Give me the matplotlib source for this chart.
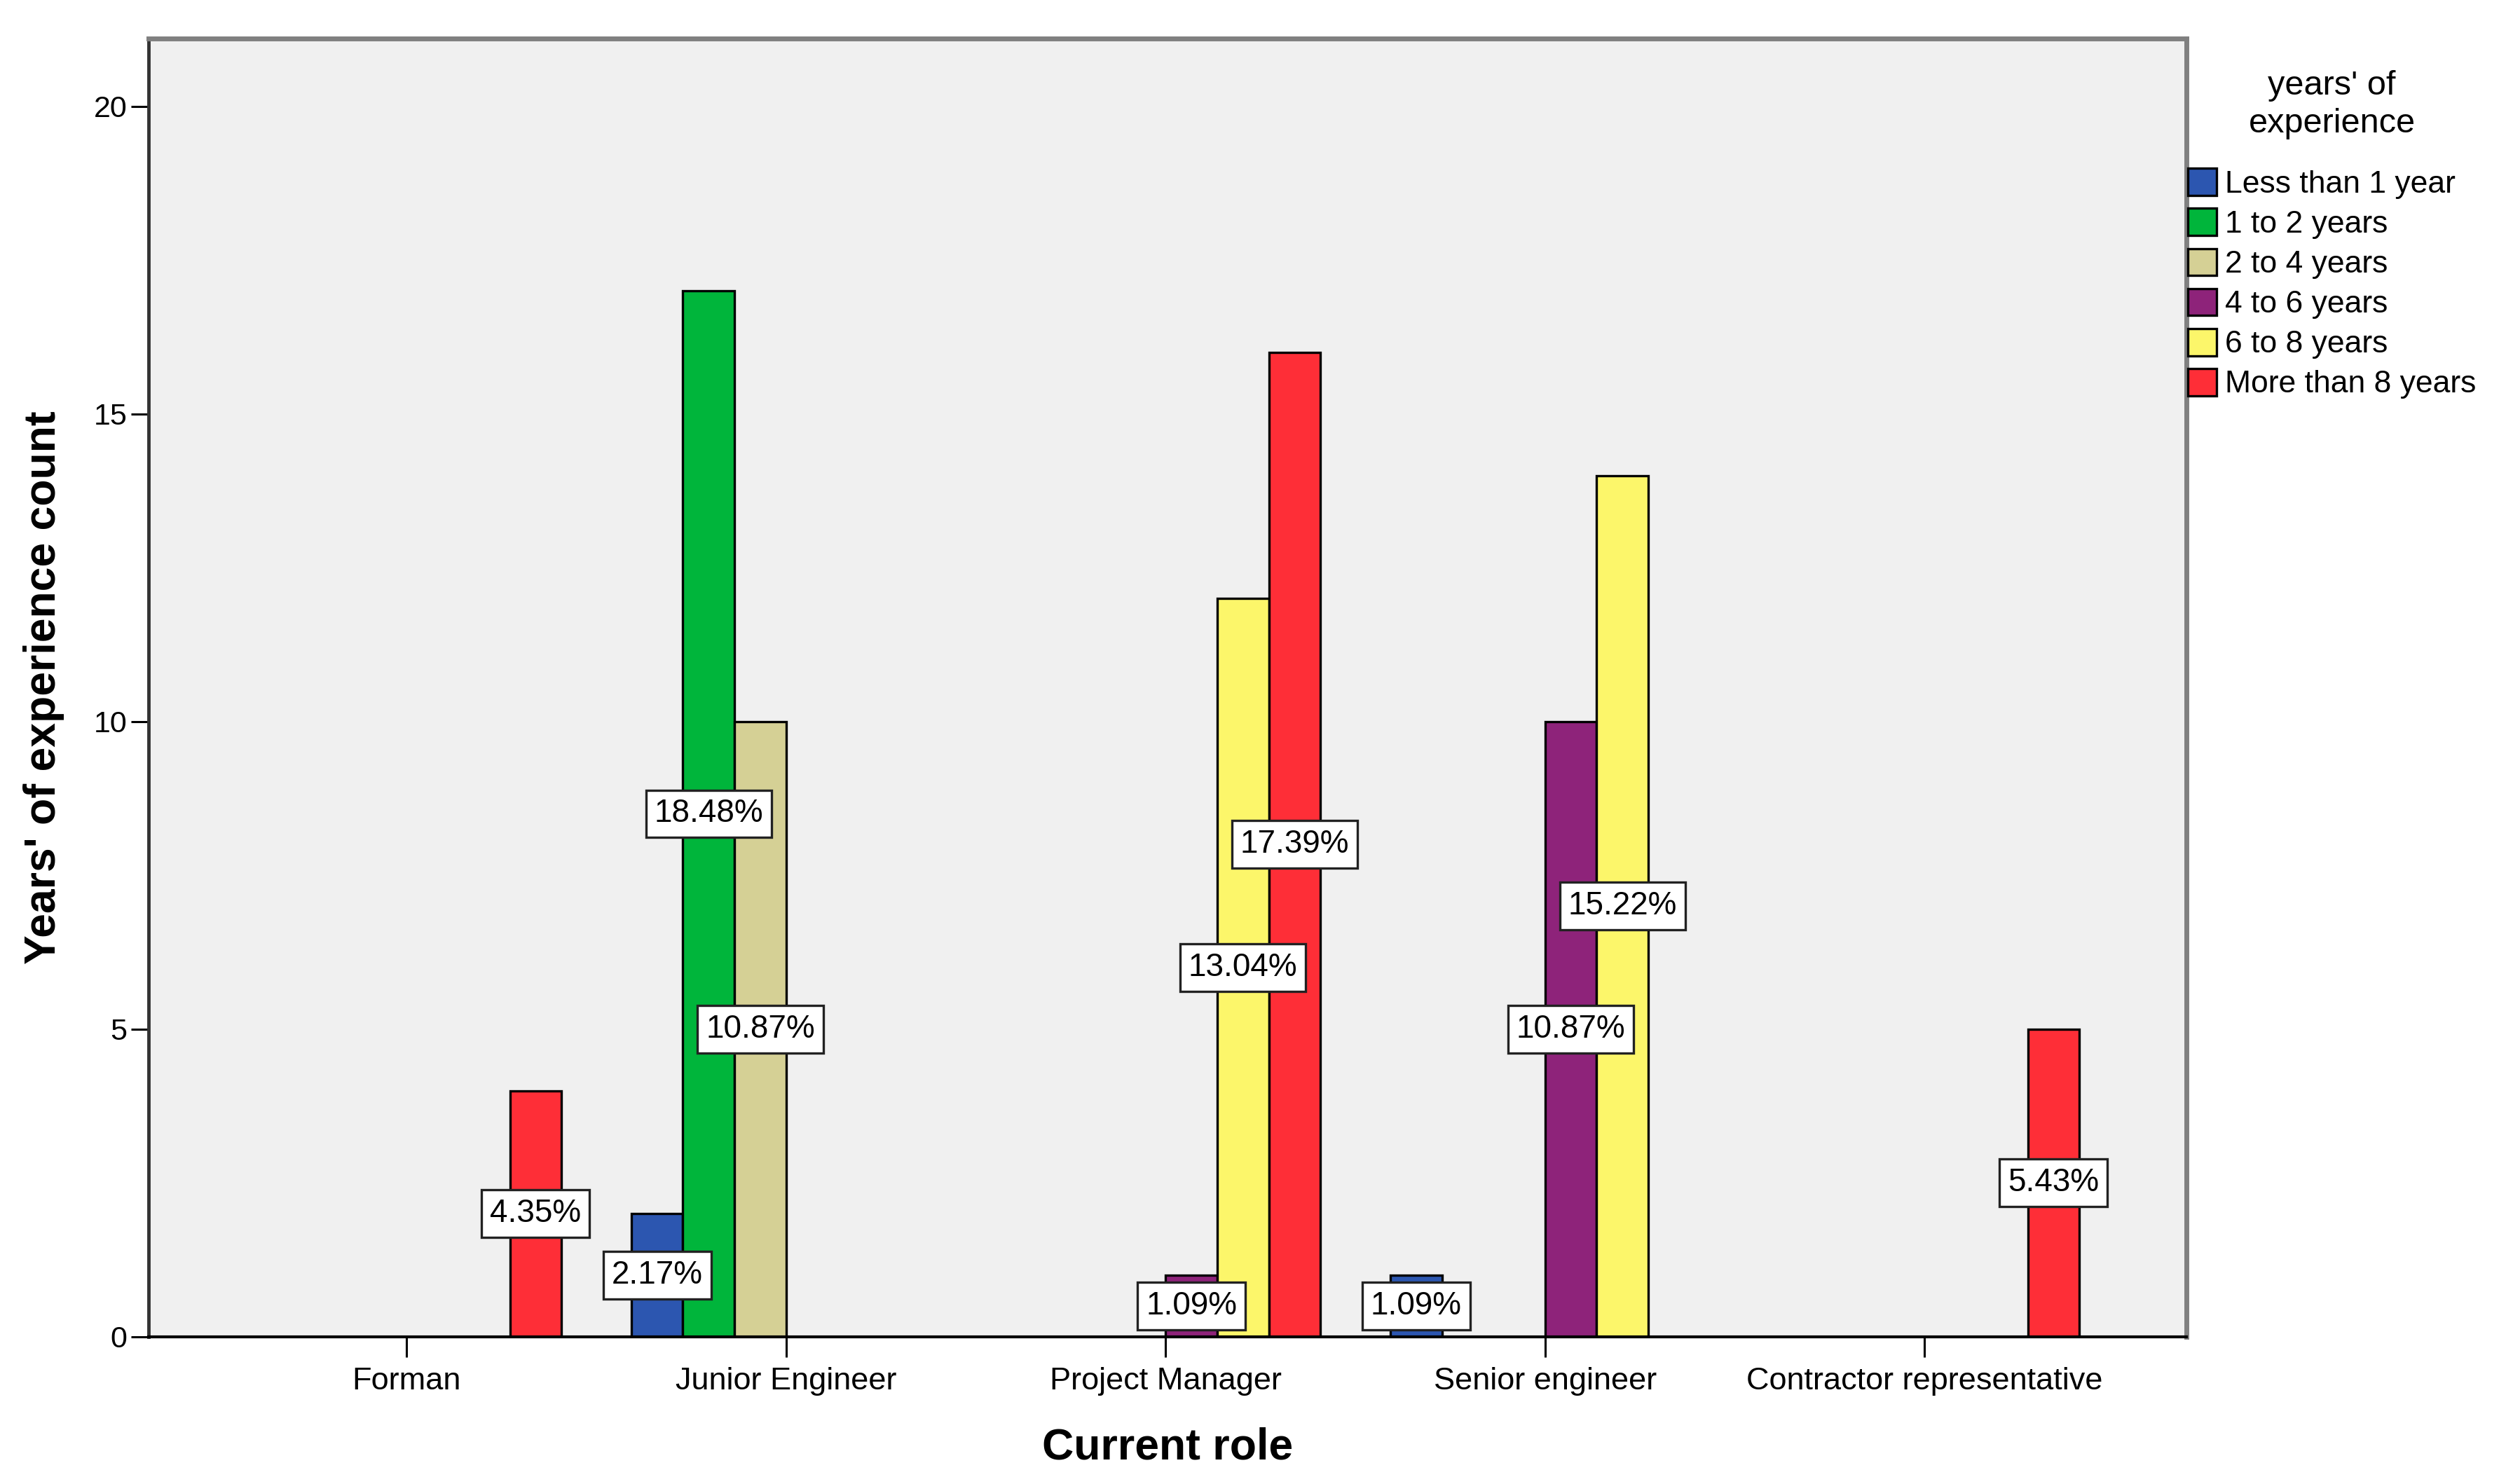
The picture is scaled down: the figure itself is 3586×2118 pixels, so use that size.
import matplotlib
matplotlib.use("Agg")
import matplotlib.pyplot as plt
import numpy as np

plt.rcParams['font.family'] = ['Liberation Sans', 'DejaVu Sans']

# Data
roles = ["Forman", "Junior Engineer", "Project Manager", "Senior engineer",
         "Contractor representative"]
experience = ["Less than 1 year", "1 to 2 years", "2 to 4 years", "4 to 6 years",
              "6 to 8 years", "More than 8 years"]
less_than_1 = [0, 2, 0, 1, 0]
one_to_2 = [0, 17, 0, 0, 0]
two_to_4 = [0, 10, 0, 0, 0]
four_to_6 = [0, 0, 1, 10, 0]
six_to_8 = [0, 0, 12, 14, 0]
more_than_8 = [4, 0, 16, 0, 5]

series = [less_than_1, one_to_2, two_to_4, four_to_6, six_to_8, more_than_8]
colors = ["#2C56B0", "#00B53B", "#D5D095", "#8E237A", "#FCF66A", "#FE2E37"]

total = sum(sum(s) for s in series)

fig = plt.figure(figsize=(35.87, 21.18), dpi=100)
ax = fig.add_axes([0.0591, 0.0992, 0.8107, 0.8748])
ax.set_facecolor("#F0F0F0")

x = np.arange(len(roles))
width = 0.136

for i, (name, vals, col) in enumerate(zip(experience, series, colors)):
    vals = np.array(vals)
    idx = np.nonzero(vals)[0]
    offset = (i - 2.5) * width
    ax.bar(x[idx] + offset, vals[idx], width=width, color=col,
           edgecolor="black", linewidth=2.4, label=name, zorder=2)

# percentage labels in the middle of every bar
for i, vals in enumerate(series):
    offset = (i - 2.5) * width
    for j, v in enumerate(vals):
        if v == 0:
            continue
        ax.text(x[j] + offset, v / 2, "%.2f%%" % (v / total * 100),
                ha="center", va="center", fontsize=33, zorder=4,
                bbox=dict(boxstyle="square,pad=0.26", facecolor="white",
                          edgecolor="#222222", linewidth=2.4))

ax.set_xlim(-0.68, 4.69)
ax.set_ylim(0, 21.1)
ax.set_xticks(x)
ax.set_xticklabels(roles, fontsize=32.5)
ax.set_yticks([0, 5, 10, 15, 20])
ax.tick_params(axis="x", length=21, width=2.2, pad=10, colors="black")
ax.tick_params(axis="y", length=18, width=2.2, pad=4, labelsize=31)

ax.spines["left"].set_color("#333333")
ax.spines["left"].set_linewidth(3.5)
ax.spines["bottom"].set_color("black")
ax.spines["bottom"].set_linewidth(3)
ax.spines["top"].set_color("#808080")
ax.spines["top"].set_linewidth(5)
ax.spines["right"].set_color("#808080")
ax.spines["right"].set_linewidth(5)

ax.set_xlabel("Current role", fontsize=45, fontweight="bold", labelpad=32)
ax.set_ylabel("Years' of experience count", fontsize=45, fontweight="bold",
              labelpad=30)

leg = fig.legend(loc="upper left", bbox_to_anchor=(3122 / 3587, 1 - 100 / 2118),
                 frameon=False, fontsize=32, title="years' of\nexperience",
                 title_fontsize=35, handlelength=0.92, handleheight=0.97,
                 handletextpad=0.27, labelspacing=0.3, borderpad=0,
                 borderaxespad=0)
leg.get_title().set_multialignment("center")
leg.get_title().set_linespacing(1.25)
leg._legend_box.sep = 30

fig.savefig("out.png", dpi=100)
